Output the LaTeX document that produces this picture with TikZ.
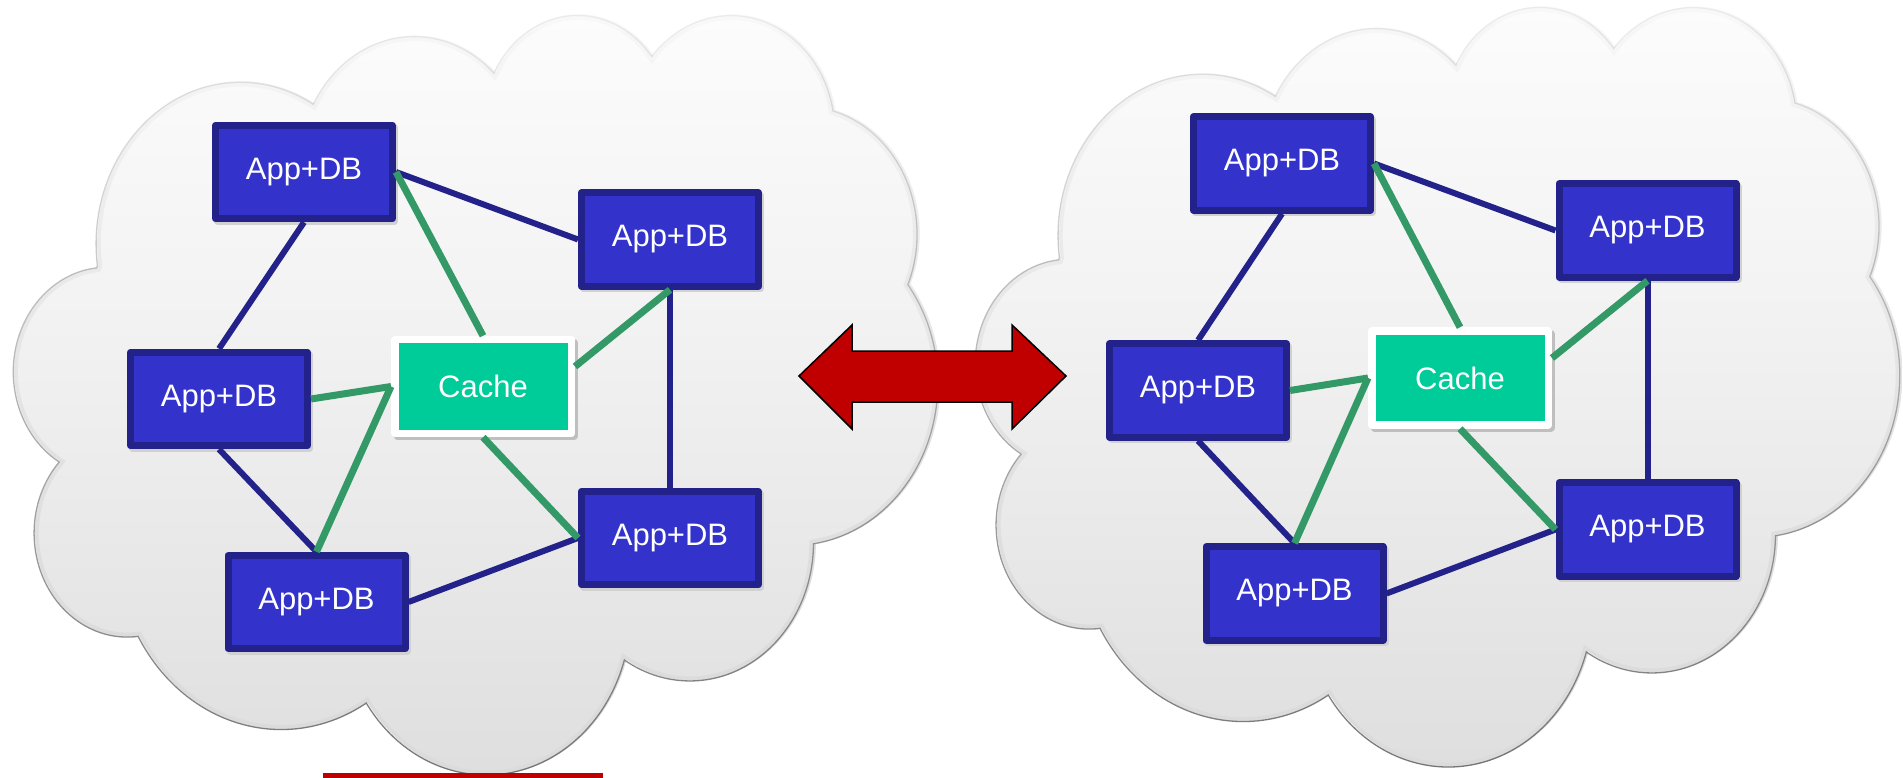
\documentclass[tikz,border=0pt]{standalone}
\usepackage{fontspec}
\setmainfont{Liberation Sans}
\usetikzlibrary{calc,shadows,fadings}

\definecolor{boxfill}{HTML}{3333CC}
\definecolor{boxline}{HTML}{22228A}
\definecolor{linkgreen}{HTML}{339966}
\definecolor{cachefill}{HTML}{00CC99}
\definecolor{arrowred}{HTML}{C00000}
\definecolor{cloudbot}{gray}{0.80}
\definecolor{cloudmid}{gray}{0.87}
\definecolor{cloudhi}{gray}{0.95}

\pgfdeclareverticalshading{cloudshade}{100bp}{color(0bp)=(cloudbot); color(25bp)=(cloudmid); color(55bp)=(cloudhi); color(80bp)=(white); color(100bp)=(white)}
\tikzfading[name=cloudfade, top color=transparent!92, bottom color=transparent!0]

\newcommand\cloudshape{(390,1437)
 arc[start angle=172.25,delta angle=128.11,x radius=675.3,y radius=919.0]
 arc[start angle=-152.02,delta angle=106.57,x radius=533.3,y radius=726.7]
 arc[start angle=-153.49,delta angle=116.17,x radius=436.5,y radius=594.5]
 arc[start angle=-139.72,delta angle=129.51,x radius=485.7,y radius=659.5]
 arc[start angle=-74.77,delta angle=97.98,x radius=533.3,y radius=727.3]
 arc[start angle=-37.52,delta angle=119.39,x radius=677.5,y radius=922.0]
 arc[start angle=0.46,delta angle=121.52,x radius=578.5,y radius=786.7]
 arc[start angle=16.85,delta angle=129.38,x radius=675.2,y radius=921.5]
 arc[start angle=58.98,delta angle=91.21,x radius=772.0,y radius=1054.3]
 arc[start angle=83.31,delta angle=139.78,x radius=436.0,y radius=591.8]
 arc[start angle=120.35,delta angle=143.76,x radius=434.5,y radius=594.5]
 -- cycle}

\begin{document}
\begin{tikzpicture}[x=1pt,y=-1pt,
  labelfont/.style={text=white, font=\fontsize{31}{37}\selectfont},
  appdb/.style={labelfont, draw=boxline, fill=boxfill, line width=7pt, line join=round,
    minimum width=177pt, minimum height=93.5pt, inner sep=0pt,
    general shadow={fill=black!18, draw=black!18, line width=7pt, shadow xshift=2pt, shadow yshift=-2.5pt}},
  cachebox/.style={labelfont, draw=white, fill=cachefill, line width=7.5pt, line join=round,
    minimum width=176.5pt, minimum height=94pt, inner sep=0pt,
    general shadow={fill=black!25, draw=black!25, line width=7.5pt, shadow xshift=2.5pt, shadow yshift=-3pt}},
  navylink/.style={draw=boxline, line width=6pt},
  greenlink/.style={draw=linkgreen, line width=7pt},
  cloudfill/.style={shading=cloudshade},
  cloudedge/.style={draw=black!55, line width=1.3pt, path fading=cloudfade},
  cloudinner/.style={draw=black!14, line width=9pt, path fading=cloudfade},
  bigarrow/.style={draw=black, fill=arrowred, line width=1.5pt, line join=miter}
]
\useasboundingbox (0,0) rectangle (1903,778);
\fill[white] (0,0) rectangle (1903,778);

% clouds
\begin{scope}[shift={(15,12)}, x=0.214120pt, y=-0.175926pt]
  \shade[cloudfill] \cloudshape;
  \begin{scope}
    \clip \cloudshape;
    \draw[cloudinner] \cloudshape;
  \end{scope}
  \draw[cloudedge] \cloudshape;
\end{scope}
\begin{scope}[shift={(977,4)}, x=0.214120pt, y=-0.175926pt]
  \shade[cloudfill] \cloudshape;
  \begin{scope}
    \clip \cloudshape;
    \draw[cloudinner] \cloudshape;
  \end{scope}
  \draw[cloudedge] \cloudshape;
\end{scope}

% double arrow
\path[bigarrow] (799,376) -- (852,325) -- (852,351) -- (1012,351) -- (1012,325)
  -- (1066,376) -- (1012,429) -- (1012,402) -- (852,402) -- (852,429) -- cycle;

% red strip at the bottom
\fill[arrowred] (323,773) rectangle (603,779);

% left cloud nodes
\node[appdb] (a1) at (304,172) {App+DB};
\node[appdb] (a2) at (670,239.5) {App+DB};
\node[appdb] (a3) at (219,399) {App+DB};
\node[cachebox] (c1) at (483,386.5) {Cache};
\node[appdb] (a4) at (670,538) {App+DB};
\node[appdb] (a5) at (316.5,602) {App+DB};

\draw[navylink] (a1.east) -- (a2.west);
\draw[navylink] (a1.south) -- (a3.north);
\draw[navylink] (a3.south) -- (a5.north);
\draw[navylink] (a5.east) -- (a4.west);
\draw[navylink] (a2.south) -- (a4.north);
\draw[greenlink] (a1.east) -- (c1.north);
\draw[greenlink] (a2.south) -- ($(c1.east)+(0,-20)$);
\draw[greenlink] (a3.east) -- (c1.west);
\draw[greenlink] (c1.west) -- (a5.north);
\draw[greenlink] (c1.south) -- (a4.west);

% right cloud nodes
\node[appdb] (b1) at (1282,163.5) {App+DB};
\node[appdb] (b2) at (1647.5,230.5) {App+DB};
\node[appdb] (b3) at (1198,390.5) {App+DB};
\node[cachebox] (c2) at (1460,378) {Cache};
\node[appdb] (b4) at (1647.5,529.5) {App+DB};
\node[appdb] (b5) at (1294.5,593.5) {App+DB};

\draw[navylink] (b1.east) -- (b2.west);
\draw[navylink] (b1.south) -- (b3.north);
\draw[navylink] (b3.south) -- (b5.north);
\draw[navylink] (b5.east) -- (b4.west);
\draw[navylink] (b2.south) -- (b4.north);
\draw[greenlink] (b1.east) -- (c2.north);
\draw[greenlink] (b2.south) -- ($(c2.east)+(0,-20)$);
\draw[greenlink] (b3.east) -- (c2.west);
\draw[greenlink] (c2.west) -- (b5.north);
\draw[greenlink] (c2.south) -- (b4.west);
\end{tikzpicture}
\end{document}
